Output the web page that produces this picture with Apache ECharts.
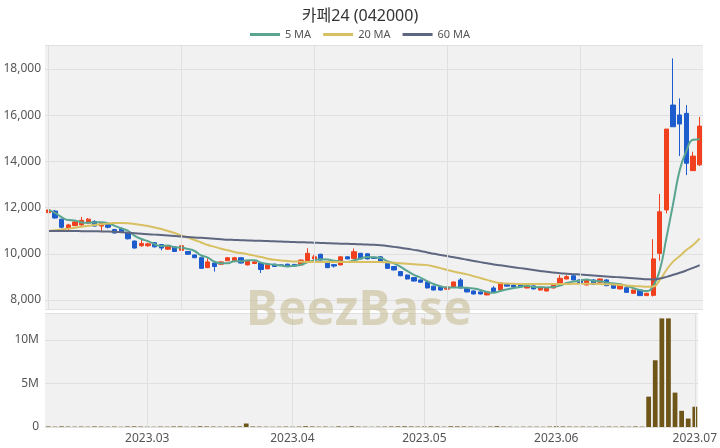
<!DOCTYPE html>
<html><head><meta charset="utf-8">
<script src="https://cdn.jsdelivr.net/npm/echarts@6/dist/echarts.min.js"></script>
<style>html,body{margin:0;padding:0;background:#fff}#c{width:720px;height:448px}</style>
</head><body><div id="c"></div>
<script>
const dates = [
"2023.02.08","2023.02.09","2023.02.10","2023.02.13","2023.02.14","2023.02.15","2023.02.16","2023.02.17","2023.02.20","2023.02.21","2023.02.22","2023.02.23","2023.02.24","2023.02.27","2023.02.28",
"2023.03.02","2023.03.03","2023.03.06","2023.03.07","2023.03.08","2023.03.09","2023.03.10","2023.03.13","2023.03.14","2023.03.15","2023.03.16","2023.03.17","2023.03.20","2023.03.21","2023.03.22","2023.03.23","2023.03.24","2023.03.27","2023.03.28","2023.03.29","2023.03.30","2023.03.31",
"2023.04.03","2023.04.04","2023.04.05","2023.04.06","2023.04.07","2023.04.10","2023.04.11","2023.04.12","2023.04.13","2023.04.14","2023.04.17","2023.04.18","2023.04.19","2023.04.20","2023.04.21","2023.04.24","2023.04.25","2023.04.26","2023.04.27","2023.04.28",
"2023.05.02","2023.05.03","2023.05.04","2023.05.08","2023.05.09","2023.05.10","2023.05.11","2023.05.12","2023.05.15","2023.05.16","2023.05.17","2023.05.18","2023.05.19","2023.05.22","2023.05.23","2023.05.24","2023.05.25","2023.05.26","2023.05.30","2023.05.31",
"2023.06.01","2023.06.02","2023.06.05","2023.06.07","2023.06.08","2023.06.09","2023.06.12","2023.06.13","2023.06.14","2023.06.15","2023.06.16","2023.06.19","2023.06.20","2023.06.21","2023.06.22","2023.06.23","2023.06.26","2023.06.27","2023.06.28","2023.06.29","2023.06.30",
"2023.07.03"];
const open = [11780,11850,11500,11120,11220,11250,11330,11400,11200,11300,11050,11100,10900,10550,10350,
10350,10480,10400,10200,10300,10150,10100,9950,9830,9400,9600,9550,9700,9700,9830,9520,9580,9600,9350,9550,9520,9550,
9540,9520,9660,9780,9980,9600,9530,9520,9870,9800,10020,10000,9850,9870,9590,9450,9230,9080,8970,8870,
8780,8600,8560,8470,8560,8870,8520,8390,8350,8220,8520,8430,8690,8650,8650,8520,8610,8430,8390,8520,
8680,8910,9050,8870,8650,8870,8770,8870,8720,8480,8530,8290,8430,8190,8200,10020,11900,16440,16010,16080,13600,
13850];
const close = [11900,11550,11150,11250,11380,11450,11500,11200,11300,11150,10900,10950,10650,10250,10450,
10430,10300,10250,10350,10100,10350,9980,9830,9370,9650,9450,9650,9830,9830,9600,9690,9650,9320,9540,9450,9500,9460,
9470,9730,10020,9870,9730,9400,9470,9870,9780,10090,9780,9780,9800,9660,9370,9300,9050,8910,8820,8770,
8520,8430,8430,8560,8780,8520,8350,8260,8260,8350,8350,8740,8600,8560,8560,8610,8480,8560,8520,8650,
8940,9010,8870,8720,8870,8680,8910,8620,8510,8680,8330,8430,8190,8290,9780,11820,15400,15500,15620,13920,14230,
15530];
const low = [11720,11520,11100,11020,11200,11200,11300,11180,10950,11100,10880,10930,10620,10220,10300,
10300,10280,10150,10180,10080,10120,9960,9810,9350,9380,9230,9530,9680,9680,9580,9500,9560,9170,9330,9430,9480,9440,
9450,9500,9640,9760,9710,9380,9400,9500,9760,9780,9760,9760,9780,9640,9350,9280,9030,8890,8800,8750,
8500,8410,8410,8450,8540,8500,8330,8240,8240,8200,8330,8410,8580,8540,8540,8500,8460,8410,8370,8500,
8660,8890,8850,8700,8630,8660,8750,8600,8490,8460,8310,8270,8170,8170,8150,9700,11750,15500,14230,13410,13600,
13800];
const high = [12000,11900,11520,11300,11420,11600,11550,11450,11350,11330,11080,11150,10930,10580,10650,
10480,10500,10420,10380,10330,10650,10120,9970,9850,9800,9620,9680,9860,9870,9850,9720,9680,9620,9570,9570,9540,9570,
9560,9750,10240,9950,10000,9620,9560,9890,9890,10230,10040,10020,9870,9890,9610,9470,9250,9100,8990,8890,
8800,8620,8580,8580,8800,8950,8540,8410,8370,8370,8600,8760,8710,8670,8670,8630,8630,8580,8540,8670,
9080,9080,9070,8890,8890,8890,8930,8890,8740,8700,8550,8450,8450,8310,10630,12590,15400,18460,16730,16440,14420,
15930];
const volume = [60000,40000,70000,50000,40000,50000,40000,60000,50000,40000,50000,30000,60000,70000,50000,
40000,30000,50000,40000,60000,70000,40000,50000,80000,60000,50000,40000,50000,60000,70000,400000,60000,50000,40000,30000,40000,50000,
40000,50000,90000,60000,40000,50000,30000,70000,40000,80000,50000,40000,30000,40000,50000,60000,70000,80000,60000,50000,
60000,70000,50000,40000,80000,70000,60000,50000,40000,40000,50000,90000,50000,40000,30000,40000,40000,40000,30000,50000,
80000,60000,50000,40000,50000,40000,50000,40000,50000,40000,50000,40000,60000,40000,3490000,7670000,12480000,12480000,3950000,1860000,970000,
2330000];
const ma5 = [11900,11770,11590,11460,11446,11356,11346,11356,11366,11320,11210,11100,10990,10780,10640,
10546,10416,10336,10356,10286,10270,10206,10122,9926,9836,9656,9590,9590,9682,9672,9720,9720,9618,9560,9530,9492,9454,
9484,9522,9636,9710,9764,9750,9698,9668,9650,9722,9798,9860,9846,9822,9678,9582,9436,9258,9090,8970,
8814,8690,8594,8542,8544,8544,8528,8494,8434,8348,8314,8392,8460,8520,8562,8614,8562,8554,8546,8564,
8630,8736,8798,8838,8882,8830,8810,8760,8718,8680,8610,8514,8428,8384,8604,9302,10696,12158,13624,14452,14934,
14960];
const ma20 = [10990,11020,11050,11090,11130,11170,11210,11250,11280,11310,11330,11330,11320,11290,11250,
11200,11140,11070,10990,10900,10800,10700,10600,10490,10380,10300,10220,10150,10080,10030,9980,9920,9860,9790,9740,9710,9690,
9670,9660,9650,9645,9640,9640,9640,9640,9645,9650,9650,9650,9650,9645,9630,9610,9590,9570,9550,9530,
9510,9450,9380,9300,9230,9170,9110,9030,8950,8870,8790,8730,8710,8700,8690,8690,8690,8690,8690,8690,
8690,8695,8700,8700,8700,8700,8690,8680,8670,8650,8630,8610,8590,8570,8580,8870,9300,9660,9900,10165,10380,
10670];
const ma60 = [10990,10990,10990,10985,10985,10980,10980,10975,10970,10965,10950,10930,10910,10890,10870,
10850,10830,10810,10790,10770,10750,10730,10710,10690,10670,10650,10630,10610,10600,10590,10580,10570,10560,10550,10540,10530,10520,
10510,10500,10490,10480,10470,10460,10450,10440,10430,10420,10410,10400,10390,10370,10340,10300,10260,10220,10170,10120,
10060,10000,9950,9900,9850,9800,9740,9690,9640,9590,9540,9500,9460,9420,9380,9340,9300,9260,9220,9190,
9160,9140,9120,9100,9080,9060,9040,9020,9000,8980,8960,8940,8920,8900,8890,8930,9000,9090,9180,9280,9390,
9510];
const priceTicks = [8000,10000,12000,14000,16000,18000];
const volumeTicks = [0,5000000,10000000];
const titleText = '카페24 (042000)';

const monthStarts = [];
dates.forEach((d,i)=>{ if(i>0 && d.slice(0,7)!==dates[i-1].slice(0,7)) monthStarts.push(i); });
const topGridIdx = dates.map((d,i)=>i).filter(i=>i%20===0);

const UP='#f0401e', DOWN='#1d5ccc', GRIDLINE='#e0e0e0';
const FONT='"Noto Sans", "Noto Sans CJK KR", sans-serif';
const chart = echarts.init(document.getElementById('c'), null, {renderer:'canvas'});
const candleData = dates.map((d,i)=>[open[i],close[i],low[i],high[i]]);
function vLines(idxs){
  return {silent:true,symbol:['none','none'],label:{show:false},animation:false,
    lineStyle:{color:GRIDLINE,width:1,type:'solid'},data:idxs.map(i=>({xAxis:dates[i]}))};
}
chart.setOption({
  animation:false,
  backgroundColor:'#fff',
  textStyle:{fontFamily:FONT},
  title:{text:titleText,left:'center',top:3,textStyle:{fontSize:16,fontWeight:'normal',color:'#333',fontFamily:FONT}},
  legend:{top:24,left:'center',itemWidth:30,itemHeight:3,itemGap:12,icon:'rect',
    textStyle:{fontSize:11,color:'#555',fontFamily:FONT},
    data:['5 MA','20 MA','60 MA']},
  grid:[{left:45,right:17,top:45,height:264,show:true,backgroundColor:'#f1f1f1',borderWidth:0},
        {left:45,right:17,top:313,height:114,show:true,backgroundColor:'#f1f1f1',borderWidth:0}],
  xAxis:[
    {type:'category',gridIndex:0,data:dates,boundaryGap:true,axisLine:{show:false},axisTick:{show:false},axisLabel:{show:false},
     splitLine:{show:false}},
    {type:'category',gridIndex:1,data:dates,boundaryGap:true,axisLine:{show:false},axisTick:{show:false},
     axisLabel:{show:true,interval:(i)=>monthStarts.includes(i),formatter:(v)=>v.slice(0,7),fontSize:12,color:'#555',margin:6,fontFamily:FONT},
     splitLine:{show:false}}
  ],
  yAxis:[
    {type:'value',gridIndex:0,min:7610,max:19040,splitNumber:5,position:'left',
     axisLine:{show:false},axisTick:{show:false},
     axisLabel:{fontSize:12,color:'#555',margin:4,fontFamily:FONT,showMinLabel:false,showMaxLabel:false,
       formatter:(v)=>priceTicks.includes(v)?v.toLocaleString('en-US'):''},
     splitLine:{show:true,lineStyle:{color:GRIDLINE}}},
    {type:'value',gridIndex:1,min:0,max:13100000,splitNumber:2,
     axisLine:{show:false},axisTick:{show:false},
     axisLabel:{fontSize:12,color:'#555',margin:6,fontFamily:FONT,showMaxLabel:false,
       formatter:(v)=>volumeTicks.includes(v)?(v===0?'0':(v/1000000)+'M'):''},
     splitLine:{show:true,lineStyle:{color:GRIDLINE}}}
  ],
  series:[
    {name:'vgrid0',type:'line',xAxisIndex:0,yAxisIndex:0,data:[],z:1,markLine:vLines(topGridIdx)},
    {name:'vgrid1',type:'line',xAxisIndex:1,yAxisIndex:1,data:[],z:1,markLine:vLines(monthStarts)},
    {name:'candle',type:'candlestick',xAxisIndex:0,yAxisIndex:0,data:candleData,barWidth:'72%',z:3,
     itemStyle:{color:UP,color0:DOWN,borderColor:UP,borderColor0:DOWN,borderWidth:1}},
    {name:'5 MA',type:'line',xAxisIndex:0,yAxisIndex:0,data:ma5,showSymbol:false,smooth:true,z:4,
     lineStyle:{width:2,color:'#5aa58f'},itemStyle:{color:'#5aa58f'}},
    {name:'20 MA',type:'line',xAxisIndex:0,yAxisIndex:0,data:ma20,showSymbol:false,smooth:true,z:4,
     lineStyle:{width:2,color:'#d8c062'},itemStyle:{color:'#d8c062'}},
    {name:'60 MA',type:'line',xAxisIndex:0,yAxisIndex:0,data:ma60,showSymbol:false,smooth:true,z:4,
     lineStyle:{width:2,color:'#5e6680'},itemStyle:{color:'#5e6680'}},
    {name:'volume',type:'bar',xAxisIndex:1,yAxisIndex:1,data:volume,barWidth:'72%',z:3,itemStyle:{color:'#6e5518'}}
  ],
  graphic:[{type:'text',left:246,top:287,z:100,silent:true,
    style:{text:'BeezBase',font:'bold 48px "Noto Sans", sans-serif',fill:'rgba(196,184,140,0.55)'}}]
});
</script></body></html>
